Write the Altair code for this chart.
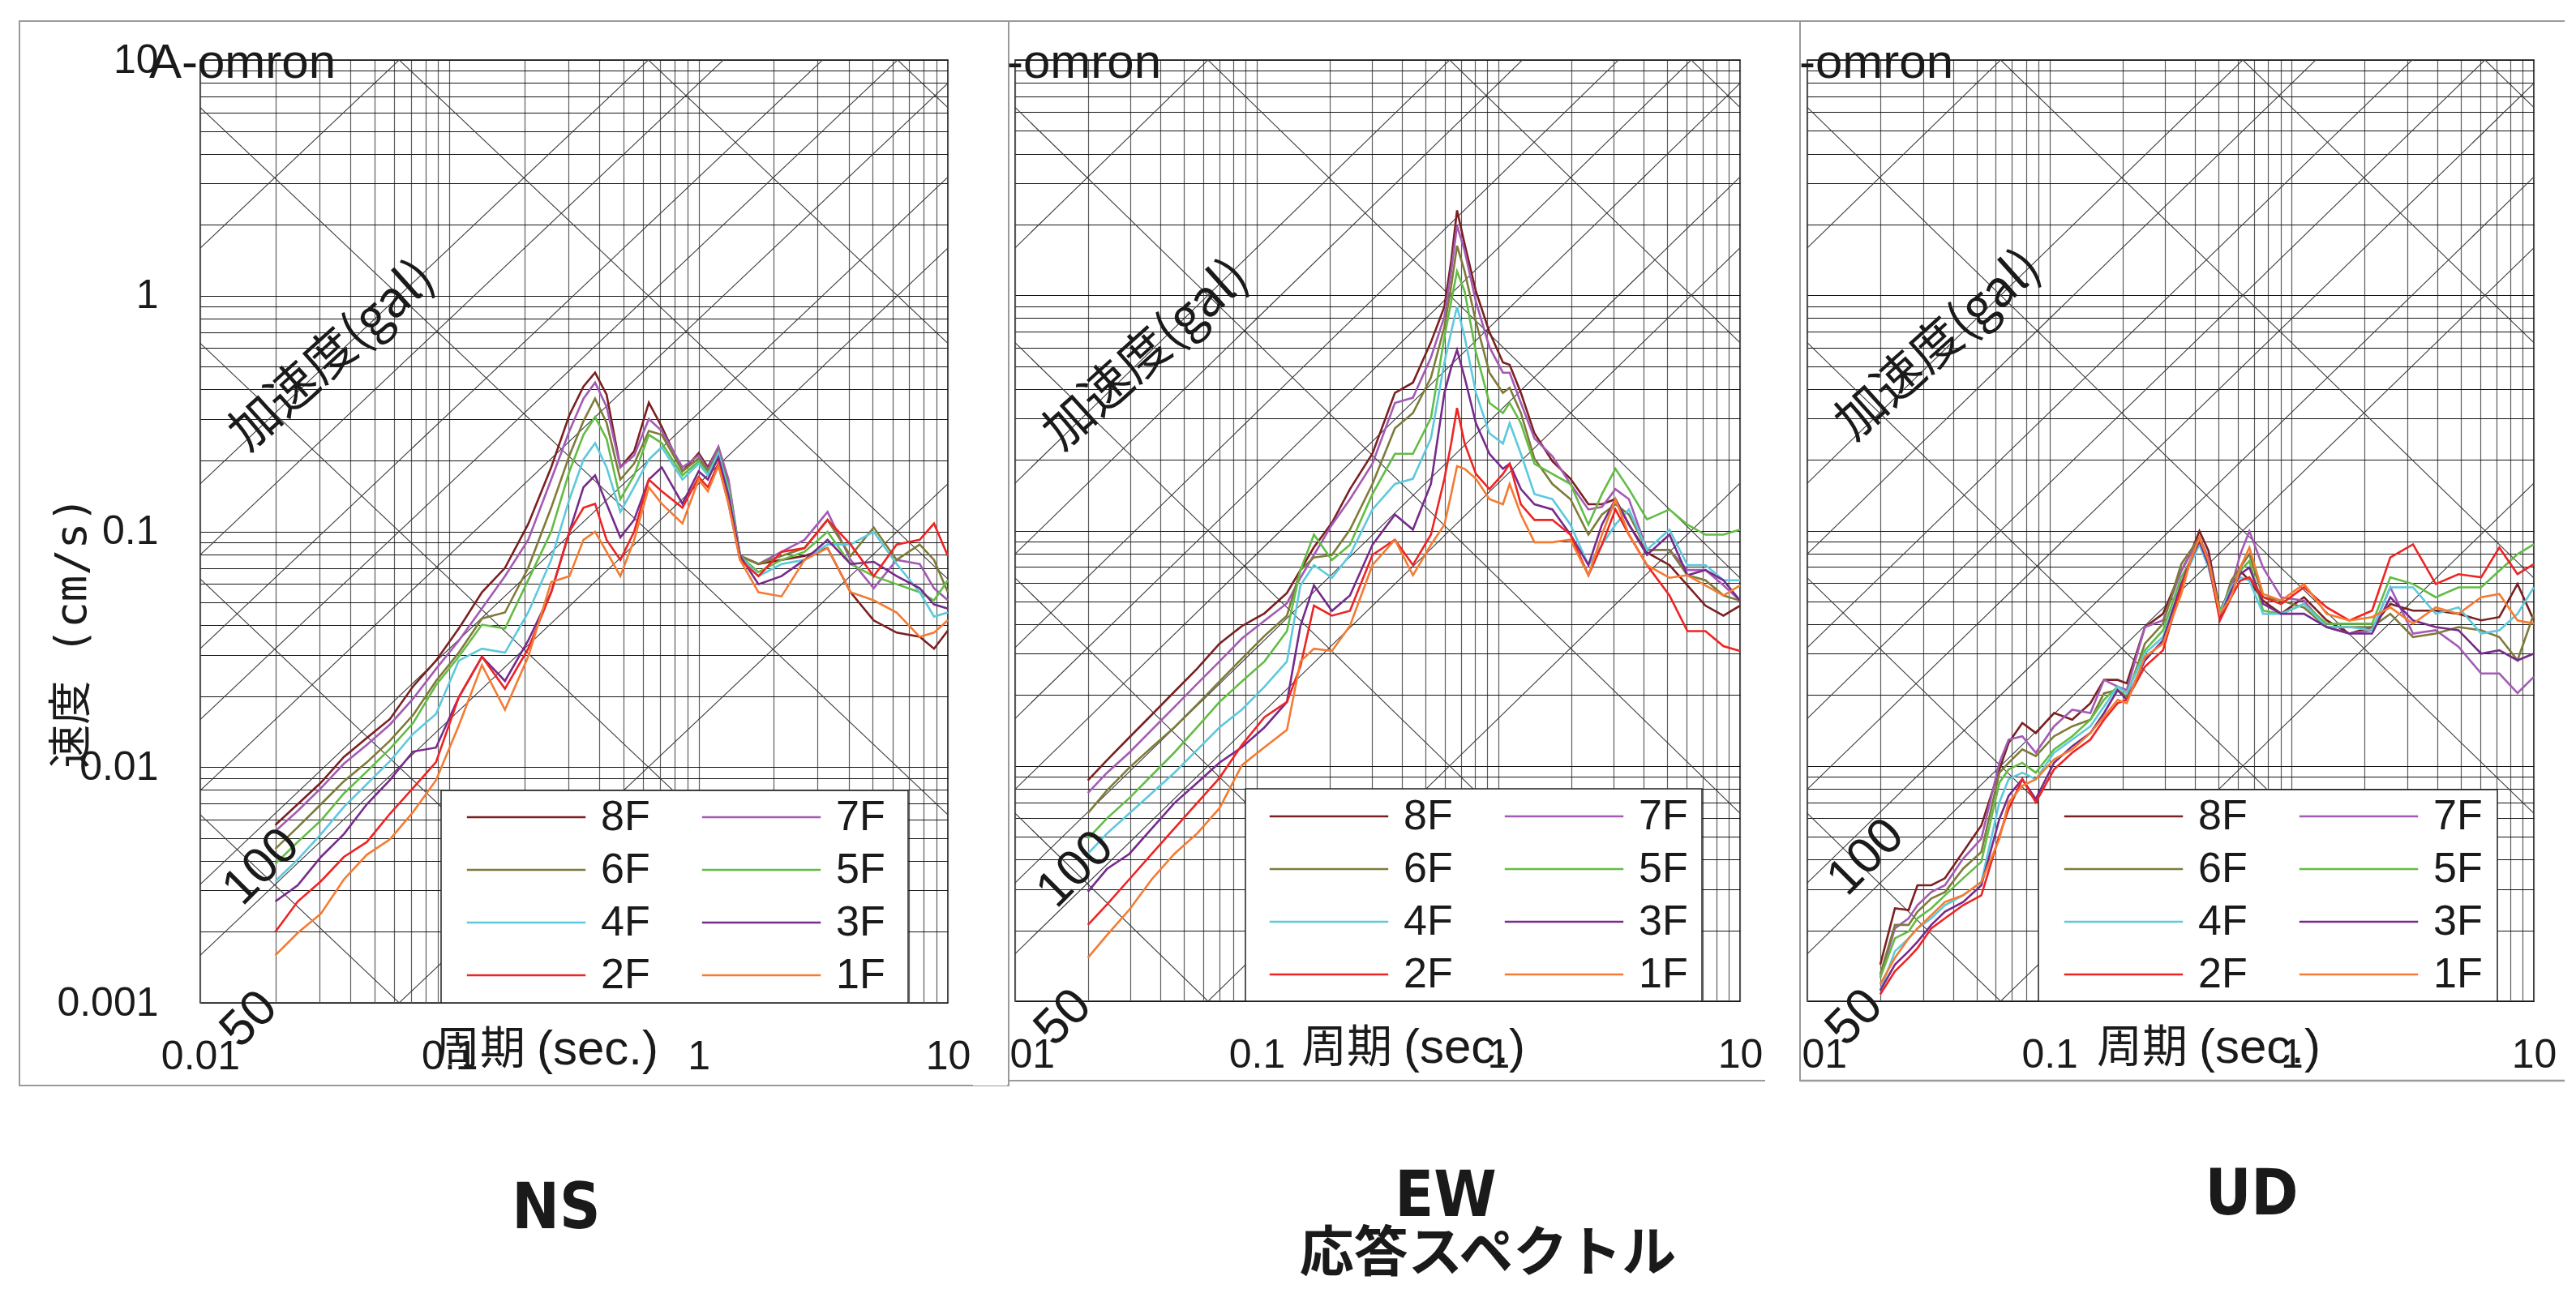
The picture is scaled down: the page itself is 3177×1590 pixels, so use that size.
import math
import altair as alt
import pandas as pd

FLOORS = ["8F", "7F", "6F", "5F", "4F", "3F", "2F", "1F"]
COLORS = ["#7b2022", "#a35bb5", "#7e7b3a", "#63bc46", "#5ec9dc", "#762b8b", "#ee2424", "#f47b32"]

# ---------------- NS ----------------
NS_T = [0.02, 0.0246, 0.0305, 0.0377, 0.0466, 0.0577, 0.0714, 0.0883, 0.109, 0.135, 0.167, 0.207,
        0.256, 0.303, 0.345, 0.384, 0.427, 0.485, 0.551, 0.631, 0.711, 0.861, 1.0, 1.089, 1.2,
        1.318, 1.466, 1.738, 2.15, 2.66, 3.29, 4.07, 5.04, 6.23, 7.71, 8.8, 10.0]
NS_8F = [0.00568, 0.00696, 0.0086, 0.01105, 0.01329, 0.016, 0.022, 0.0283, 0.0387, 0.0552, 0.070, 0.1075,
         0.187, 0.312, 0.412, 0.472, 0.381, 0.187, 0.219, 0.352, 0.278, 0.180, 0.215, 0.187, 0.228,
         0.160, 0.0787, 0.0727, 0.0757, 0.0787, 0.085, 0.0552, 0.0419, 0.0372, 0.0357, 0.0318, 0.038]
NS_7F = [0.00535, 0.00652, 0.00815, 0.01034, 0.01244, 0.01516, 0.0195, 0.0261, 0.0344, 0.0471, 0.0646, 0.0921,
         0.166, 0.267, 0.366, 0.428, 0.338, 0.187, 0.210, 0.300, 0.267, 0.187, 0.210, 0.183, 0.228,
         0.166, 0.0787, 0.0727, 0.0819, 0.0921, 0.121, 0.0757, 0.0574, 0.0757, 0.0727, 0.0574, 0.051]
NS_6F = [0.0045, 0.00556, 0.00696, 0.00871, 0.01048, 0.01294, 0.01662, 0.0232, 0.0306, 0.0427, 0.0453, 0.070,
         0.126, 0.210, 0.294, 0.366, 0.289, 0.166, 0.194, 0.267, 0.257, 0.180, 0.204, 0.180, 0.219,
         0.154, 0.0787, 0.0727, 0.0787, 0.085, 0.112, 0.0787, 0.104, 0.0757, 0.088, 0.0757, 0.0552]
NS_5F = [0.00389, 0.00481, 0.00594, 0.00773, 0.00958, 0.01196, 0.01536, 0.0223, 0.0294, 0.0402, 0.0387, 0.0621,
         0.0997, 0.180, 0.257, 0.306, 0.247, 0.137, 0.173, 0.257, 0.237, 0.173, 0.198, 0.176, 0.210,
         0.154, 0.0787, 0.0672, 0.0757, 0.0819, 0.0997, 0.0727, 0.0646, 0.0597, 0.0552, 0.051, 0.062]
NS_4F = [0.00328, 0.00405, 0.0052, 0.00678, 0.00848, 0.0106, 0.01383, 0.0168, 0.0283, 0.0318, 0.0306, 0.0453,
         0.0757, 0.137, 0.202, 0.237, 0.187, 0.121, 0.154, 0.202, 0.228, 0.166, 0.194, 0.173, 0.215,
         0.148, 0.0787, 0.0646, 0.0727, 0.0757, 0.088, 0.088, 0.0997, 0.0727, 0.0552, 0.0435, 0.0453]
NS_3F = [0.00269, 0.00315, 0.00416, 0.0052, 0.00696, 0.00882, 0.01164, 0.0121, 0.0198, 0.0294, 0.0232, 0.0344,
         0.0552, 0.0997, 0.154, 0.173, 0.131, 0.0943, 0.112, 0.166, 0.187, 0.131, 0.180, 0.166, 0.206,
         0.142, 0.0787, 0.0597, 0.0646, 0.0757, 0.0921, 0.0727, 0.0743, 0.0646, 0.0574, 0.049, 0.047]
NS_2F = [0.002, 0.00269, 0.00328, 0.00416, 0.00481, 0.00634, 0.00815, 0.0105, 0.0198, 0.0294, 0.0215, 0.0318,
         0.0552, 0.0997, 0.126, 0.131, 0.0921, 0.0757, 0.0997, 0.166, 0.148, 0.126, 0.170, 0.154, 0.194,
         0.131, 0.0757, 0.0646, 0.0819, 0.085, 0.112, 0.088, 0.0646, 0.088, 0.0921, 0.108, 0.0787]
NS_1F = [0.00159, 0.00198, 0.00239, 0.00334, 0.00425, 0.00494, 0.00644, 0.0088, 0.015, 0.0271, 0.0175, 0.0294,
         0.061, 0.0646, 0.0921, 0.0997, 0.0819, 0.0646, 0.0921, 0.154, 0.131, 0.108, 0.166, 0.148, 0.19,
         0.131, 0.0757, 0.0552, 0.053, 0.0757, 0.085, 0.0552, 0.051, 0.0453, 0.0357, 0.0372, 0.042]

# ---------------- EW ----------------
EW_T = [0.02, 0.024, 0.0297, 0.0368, 0.0456, 0.0566, 0.0701, 0.0868, 0.1076, 0.1333, 0.1516, 0.1724,
        0.2047, 0.243, 0.3011, 0.373, 0.4428, 0.5257, 0.5978, 0.6375, 0.6742, 0.725, 0.8072, 0.918,
        1.044, 1.113, 1.239, 1.41, 1.673, 1.987, 2.358, 2.682, 3.05, 3.469, 4.119, 5.104, 6.058,
        7.193, 8.538, 10.0]
EW_8F = [0.00868, 0.01058, 0.01323, 0.01652, 0.02066, 0.0259, 0.0331, 0.0393, 0.0445, 0.0543, 0.068, 0.085,
         0.108, 0.150, 0.2124, 0.385, 0.4254, 0.632, 0.895, 1.399, 2.296, 1.65, 1.039, 0.698,
         0.519, 0.506, 0.385, 0.259, 0.197, 0.166, 0.1294, 0.1294, 0.136, 0.106, 0.0807, 0.0714, 0.0585,
         0.048, 0.0435, 0.048]
EW_7F = [0.00767, 0.00935, 0.0114, 0.01424, 0.0178, 0.0223, 0.0278, 0.0348, 0.0414, 0.0491, 0.063, 0.0788,
         0.106, 0.136, 0.1924, 0.349, 0.367, 0.544, 0.811, 1.265, 1.978, 1.544, 0.94, 0.602,
         0.469, 0.469, 0.349, 0.2466, 0.207, 0.1578, 0.123, 0.126, 0.150, 0.136, 0.0828, 0.0828, 0.068,
         0.068, 0.0585, 0.0504]
EW_6F = [0.00629, 0.00787, 0.00983, 0.012, 0.01458, 0.01823, 0.02285, 0.0286, 0.0357, 0.0435, 0.0679, 0.0769,
         0.0788, 0.101, 0.1578, 0.272, 0.316, 0.447, 0.734, 1.092, 1.623, 1.265, 0.771, 0.469,
         0.385, 0.405, 0.316, 0.202, 0.1578, 0.136, 0.0961, 0.117, 0.1294, 0.117, 0.0828, 0.0828, 0.0646,
         0.0615, 0.053, 0.0504]
EW_5F = [0.00491, 0.00599, 0.0073, 0.00913, 0.0114, 0.01458, 0.0187, 0.02285, 0.0278, 0.0374, 0.0679, 0.0961,
         0.075, 0.087, 0.143, 0.212, 0.212, 0.301, 0.664, 0.94, 1.265, 1.039, 0.572, 0.349,
         0.316, 0.349, 0.286, 0.1924, 0.174, 0.1578, 0.106, 0.143, 0.183, 0.150, 0.1116, 0.123, 0.106,
         0.0961, 0.0961, 0.101]
EW_4F = [0.00423, 0.00516, 0.00629, 0.00767, 0.00935, 0.01169, 0.01458, 0.01736, 0.0217, 0.0278, 0.0585, 0.0714,
         0.063, 0.0788, 0.123, 0.1578, 0.166, 0.2466, 0.519, 0.698, 0.895, 0.664, 0.385, 0.259,
         0.2346, 0.286, 0.212, 0.143, 0.136, 0.106, 0.0714, 0.087, 0.106, 0.123, 0.0828, 0.101, 0.0714,
         0.0714, 0.0615, 0.0615]
EW_3F = [0.00292, 0.00365, 0.00423, 0.00542, 0.00695, 0.00847, 0.01032, 0.012, 0.01458, 0.0187, 0.0394, 0.0585,
         0.0456, 0.053, 0.087, 0.117, 0.101, 0.1578, 0.385, 0.493, 0.586, 0.447, 0.286, 0.212,
         0.183, 0.1924, 0.150, 0.1294, 0.123, 0.0961, 0.0714, 0.106, 0.136, 0.106, 0.0788, 0.0961, 0.0646,
         0.068, 0.0615, 0.0504]
EW_2F = [0.00211, 0.00258, 0.0033, 0.00423, 0.00542, 0.00695, 0.00889, 0.01228, 0.0161, 0.0187, 0.0265, 0.048,
         0.0435, 0.0456, 0.0788, 0.0915, 0.0714, 0.0961, 0.166, 0.2346, 0.332, 0.2346, 0.174, 0.150,
         0.174, 0.1924, 0.1294, 0.111, 0.111, 0.0961, 0.0646, 0.087, 0.123, 0.0961, 0.0714, 0.053, 0.0374,
         0.0374, 0.0323, 0.0308]
EW_1F = [0.00153, 0.00191, 0.00245, 0.0033, 0.00423, 0.00516, 0.00661, 0.01007, 0.012, 0.01424, 0.0278, 0.0315,
         0.0308, 0.0394, 0.0714, 0.0915, 0.0646, 0.087, 0.106, 0.143, 0.188, 0.183, 0.166, 0.136,
         0.1294, 0.1578, 0.117, 0.0892, 0.0892, 0.0915, 0.0646, 0.0961, 0.136, 0.0961, 0.0714, 0.063, 0.0646,
         0.0585, 0.053, 0.0585]

# ---------------- UD ----------------
UD_T = [0.02, 0.023, 0.0262, 0.0285, 0.0325, 0.037, 0.044, 0.0523, 0.0621, 0.0678, 0.0772, 0.0878,
        0.1044, 0.1241, 0.1475, 0.1679, 0.1911, 0.2084, 0.2477, 0.2943, 0.3499, 0.3815, 0.4159, 0.4534,
        0.5053, 0.5628, 0.6137, 0.669, 0.7617, 0.9053, 1.124, 1.395, 1.731, 2.148, 2.554, 3.17, 3.934,
        4.884, 6.061, 7.202, 8.562, 10.0]
UD_8F = [0.00143, 0.00248, 0.00244, 0.00311, 0.00311, 0.00333, 0.00431, 0.00558, 0.00966, 0.01253, 0.01522, 0.0138,
         0.01678, 0.01572, 0.01847, 0.0232, 0.0232, 0.02244, 0.0389, 0.0443, 0.0675, 0.0794, 0.0995, 0.082,
         0.0457, 0.0574, 0.0675, 0.0613, 0.0504, 0.0443, 0.0521, 0.04154, 0.0365, 0.0389, 0.0488, 0.0457,
         0.0457, 0.0443, 0.04154, 0.0429, 0.0593, 0.04154]
UD_7F = [0.00126, 0.00204, 0.00225, 0.00256, 0.00291, 0.00311, 0.00404, 0.0049, 0.01031, 0.01294, 0.01336, 0.01137,
         0.01473, 0.01732, 0.01678, 0.0232, 0.02173, 0.021, 0.0389, 0.04154, 0.0675, 0.0794, 0.0932, 0.0769,
         0.0443, 0.0574, 0.0794, 0.0995, 0.0697, 0.0521, 0.0504, 0.0389, 0.0365, 0.0377, 0.0574, 0.0365,
         0.0377, 0.0321, 0.0247, 0.0247, 0.0204, 0.0239]
UD_6F = [0.0013, 0.00211, 0.00211, 0.0024, 0.00273, 0.00291, 0.00366, 0.00431, 0.00936, 0.01031, 0.01175, 0.011,
         0.01336, 0.01473, 0.01572, 0.02036, 0.021, 0.0197, 0.0331, 0.0402, 0.072, 0.082, 0.0932, 0.0744,
         0.0429, 0.0613, 0.0697, 0.0794, 0.0521, 0.0504, 0.0471, 0.0389, 0.0389, 0.0389, 0.0443, 0.0353,
         0.0365, 0.0389, 0.0377, 0.0353, 0.0281, 0.0443]
UD_5F = [0.00126, 0.00185, 0.00198, 0.00225, 0.00248, 0.00282, 0.00333, 0.00391, 0.00849, 0.00966, 0.01031, 0.00936,
         0.01175, 0.01336, 0.01572, 0.0191, 0.02173, 0.02036, 0.031, 0.0377, 0.0633, 0.0744, 0.0874, 0.072,
         0.0457, 0.0556, 0.0675, 0.0744, 0.0457, 0.0443, 0.0488, 0.0402, 0.0402, 0.0402, 0.0633, 0.0593,
         0.0521, 0.0574, 0.0574, 0.0675, 0.0794, 0.0874]
UD_4F = [0.00111, 0.00163, 0.00185, 0.00204, 0.00225, 0.00256, 0.00282, 0.00321, 0.007, 0.00878, 0.00936, 0.00878,
         0.01137, 0.01294, 0.01473, 0.01788, 0.02173, 0.02036, 0.03004, 0.0353, 0.0593, 0.072, 0.0874, 0.0697,
         0.0443, 0.0574, 0.0633, 0.0613, 0.0443, 0.0443, 0.0488, 0.0389, 0.0389, 0.0377, 0.0574, 0.0574,
         0.0443, 0.0472, 0.0365, 0.0377, 0.0443, 0.0574]
UD_3F = [0.00111, 0.00143, 0.00163, 0.00179, 0.00211, 0.0024, 0.00264, 0.00311, 0.00595, 0.00746, 0.00878, 0.00723,
         0.01031, 0.01213, 0.0138, 0.01678, 0.021, 0.0191, 0.0281, 0.0342, 0.0593, 0.0744, 0.0903, 0.072,
         0.0429, 0.0556, 0.0653, 0.0697, 0.0488, 0.0443, 0.0443, 0.0389, 0.0365, 0.0365, 0.0521, 0.0415,
         0.0389, 0.0377, 0.03, 0.031, 0.0281, 0.03]
UD_2F = [0.00107, 0.00134, 0.00153, 0.00168, 0.00204, 0.00225, 0.00256, 0.00282, 0.00506, 0.00656, 0.00878, 0.007,
         0.00966, 0.01137, 0.01294, 0.01572, 0.01847, 0.0191, 0.0264, 0.031, 0.0574, 0.0744, 0.0932, 0.0744,
         0.0415, 0.0521, 0.0613, 0.0633, 0.0521, 0.0488, 0.0574, 0.0472, 0.0415, 0.0457, 0.0769, 0.0874,
         0.0593, 0.0653, 0.0633, 0.0847, 0.0653, 0.072]
UD_1F = [0.00118, 0.00153, 0.00185, 0.00204, 0.00232, 0.00264, 0.00282, 0.00321, 0.0049, 0.007, 0.00823, 0.00878,
         0.01066, 0.01175, 0.0138, 0.01623, 0.0191, 0.01847, 0.0291, 0.0331, 0.0538, 0.0744, 0.0932, 0.0744,
         0.0443, 0.0521, 0.0697, 0.0847, 0.0538, 0.0504, 0.0593, 0.0443, 0.0415, 0.0429, 0.0472, 0.0402,
         0.0472, 0.0443, 0.0521, 0.0538, 0.0415, 0.0402]

# tripartite guide lines: constant acceleration (gal) and constant displacement (cm)
ACC_LINES = [0.1, 1, 2, 5, 10, 20, 50, 100, 1000]
DISP_LINES = [1e-5, 1e-4, 1e-3, 1e-2, 0.1, 1, 10]

X_TICKS = [round(k * 10.0 ** e, 6) for e in (-2, -1, 0) for k in range(1, 10)] + [10.0]
Y_TICKS = [round(k * 10.0 ** e, 6) for e in (-3, -2, -1, 0) for k in range(1, 10)] + [10.0]
X_LABELS = {0.01: "0.01", 0.1: "0.1", 1.0: "1", 10.0: "10"}
Y_LABELS = {0.001: "0.001", 0.01: "0.01", 0.1: "0.1", 1.0: "1", 10.0: "10"}

FONT = "Liberation Sans, Arial, sans-serif"
CJK = "Noto Sans CJK JP, sans-serif"
MONO = "DejaVu Sans Mono, Noto Sans CJK JP, monospace"
NARROW = "Liberation Sans Narrow, DejaVu Sans Condensed, Liberation Sans, sans-serif"


def label_expr(mapping):
    expr = "''"
    for v, s in mapping.items():
        expr = f"datum.value == {v} ? '{s}' : " + expr
    return expr


diag_rows = []
for a in ACC_LINES:
    for t in (0.001, 100.0):
        diag_rows.append({"T": t, "V": a * t / (2 * math.pi), "g": f"a{a}"})
for d in DISP_LINES:
    for t in (0.001, 100.0):
        diag_rows.append({"T": t, "V": 2 * math.pi * d / t, "g": f"d{d}"})
DIAG_DF = pd.DataFrame(diag_rows)
ONE = pd.DataFrame({"k": [0]})


def xenc():
    return alt.X("T:Q", scale=alt.Scale(type="log", domain=[0.01, 10], nice=False),
                 axis=alt.Axis(values=X_TICKS, labelExpr=label_expr(X_LABELS), title=None, grid=True,
                               gridColor="#5e5e5e", gridWidth=1.2, ticks=False, domain=False,
                               labelFont=FONT, labelFontSize=50, labelColor="#1a1a1a",
                               labelPadding=66, labelBaseline="middle", labelFlush=False,
                               labelOverlap=False, labelBound=False))


def yenc(show):
    return alt.Y("V:Q", scale=alt.Scale(type="log", domain=[0.001, 10], nice=False),
                 axis=alt.Axis(values=Y_TICKS, labelExpr=label_expr(Y_LABELS), labels=show, title=None,
                               grid=True, gridColor="#151515", gridWidth=1.2, ticks=False, domain=False,
                               labelFont=FONT, labelFontSize=50, labelColor="#1a1a1a",
                               labelPadding=52, labelFlush=False, labelOverlap=False, labelBound=False))


def text(t, x, y, size, font=FONT, angle=0, align="center", baseline="middle", weight="normal"):
    return alt.Chart(ONE).mark_text(text=t, fontSize=size, font=font, angle=angle, align=align,
                                    baseline=baseline, fontWeight=weight, color="#1a1a1a").encode(
        x=alt.value(x), y=alt.value(y))


def rect(x1, y1, x2, y2, **kw):
    return alt.Chart(ONE).mark_rect(**kw).encode(x=alt.value(x1), x2=alt.value(x2),
                                                 y=alt.value(y1), y2=alt.value(y2))


def rule(x1, y1, x2, y2, **kw):
    return alt.Chart(ONE).mark_rule(**kw).encode(x=alt.value(x1), x2=alt.value(x2),
                                                 y=alt.value(y1), y2=alt.value(y2))


def panel(T, series, cfg):
    df = pd.DataFrame([{"T": t, "V": v, "floor": f}
                       for f, vals in zip(FLOORS, series) for t, v in zip(T, vals)])
    w, h = cfg["w"], cfg["h"]
    layers = []
    fx1, fy1, fx2, fy2 = cfg["frame"]
    if cfg.get("open_right"):
        layers += [rule(fx1, fy1, fx2, fy1, color="#9a9a9a", strokeWidth=2),
                   rule(fx1, fy1, fx1, fy2, color="#9a9a9a", strokeWidth=2),
                   rule(fx1, fy2, fx2, fy2, color="#9a9a9a", strokeWidth=2.5)]
    else:
        layers.append(rect(fx1, fy1, fx2, fy2, fillOpacity=0, stroke="#9a9a9a", strokeWidth=2))
    layers.append(alt.Chart(DIAG_DF).mark_line(clip=True, color="#3c3c3c", strokeWidth=1.1).encode(
        x=xenc(), y=yenc(cfg["show_y"]), detail="g:N"))
    bx1, by1, bx2, by2 = cfg["box"]
    layers.append(rect(bx1, by1, bx2, by2, fill="white", stroke="#222222", strokeWidth=1.5))
    lx, ly = cfg["legend"]
    layers.append(alt.Chart(df).mark_line(strokeWidth=2.6).encode(
        x=xenc(), y=yenc(cfg["show_y"]),
        color=alt.Color("floor:N", scale=alt.Scale(domain=FLOORS, range=COLORS),
                        legend=alt.Legend(title=None, orient="none", legendX=lx, legendY=ly, columns=2,
                                          direction="horizontal",
                                          symbolType="M-2.4,0L2.4,0", symbolSize=61 * 61,
                                          symbolStrokeWidth=2.6, symbolOffset=41, labelOffset=60,
                                          labelFont=FONT, labelFontSize=52, labelColor="#1a1a1a",
                                          columnPadding=58, rowPadding=7, padding=0))))
    if cfg.get("mask"):
        layers.append(rect(-52, h + 30, -10, h + 104, fill="white", strokeWidth=0))
    # annotations
    tt, tx = cfg["title"]
    layers.append(text(tt, tx, 22, 60, align="left", baseline="alphabetic"))
    ax, ay = cfg["acc"]
    layers.append(text("加速度(gal)", ax, ay, 62, font=CJK, angle=318))
    hx, hy = cfg["l100"]
    layers.append(text("100", hx, hy, 62, angle=315))
    fx, fy = cfg["l50"]
    layers.append(text("50", fx, fy, 62, angle=315))
    xt = cfg["xt"]
    layers.append(text("周期", xt, h + 58, 56, font=CJK, align="left"))
    layers.append(text("(sec.)", xt + 126, h + 58, 60, align="left"))
    if cfg["show_y"]:
        layers.append(text("速度 (cm/s)", -157, 706, 54, font=MONO, angle=270))
    for s, x, y, size, font in cfg["bottom"]:
        layers.append(text(s, x, y, size, font=font, weight="bold"))
    return alt.layer(*layers).properties(width=w, height=h)


ns = panel(NS_T, [NS_8F, NS_7F, NS_6F, NS_5F, NS_4F, NS_3F, NS_2F, NS_1F], dict(
    w=922, h=1163, frame=(-223, -48, 997, 1265), box=(297, 901, 873, 1163), legend=(329, 902),
    title=("A-omron", -63), acc=(163, 365), l100=(75, 995), l50=(60, 1183), xt=289, show_y=True,
    bottom=[("NS", 439, 1418, 78, NARROW)]))
ew = panel(EW_T, [EW_8F, EW_7F, EW_6F, EW_5F, EW_4F, EW_3F, EW_2F, EW_1F], dict(
    w=894, h=1161, frame=(-8, -48, 968, 1259), box=(284, 899, 847, 1161), legend=(314, 901),
    title=("-omron", -10), acc=(162, 364), l100=(74, 998), l50=(59, 1181), xt=353, show_y=False,
    mask=True,
    bottom=[("EW", 531, 1403, 78, NARROW), ("応答スペクトル", 583, 1474, 67, CJK)]))
ud = panel(UD_T, [UD_8F, UD_7F, UD_6F, UD_5F, UD_4F, UD_3F, UD_2F, UD_1F], dict(
    w=896, h=1161, frame=(-9, -48, 934, 1259), open_right=True, box=(285, 900, 851, 1161),
    legend=(317, 901), title=("-omron", -10), acc=(162, 352), l100=(72, 983), l50=(58, 1181),
    xt=357, show_y=False, mask=True,
    bottom=[("UD", 548, 1401, 78, NARROW)]))

chart = alt.hconcat(ns, ew, ud, spacing=83, bounds="flush").resolve_scale(
    x="independent", y="independent", color="independent").resolve_legend(
    color="independent").properties(
    padding={"left": 14, "top": 16, "right": 0, "bottom": 0}, background="white").configure_view(
    stroke="#111111", strokeWidth=1.6)

chart.save("out.html", embed_options={"renderer": "svg", "actions": False})
